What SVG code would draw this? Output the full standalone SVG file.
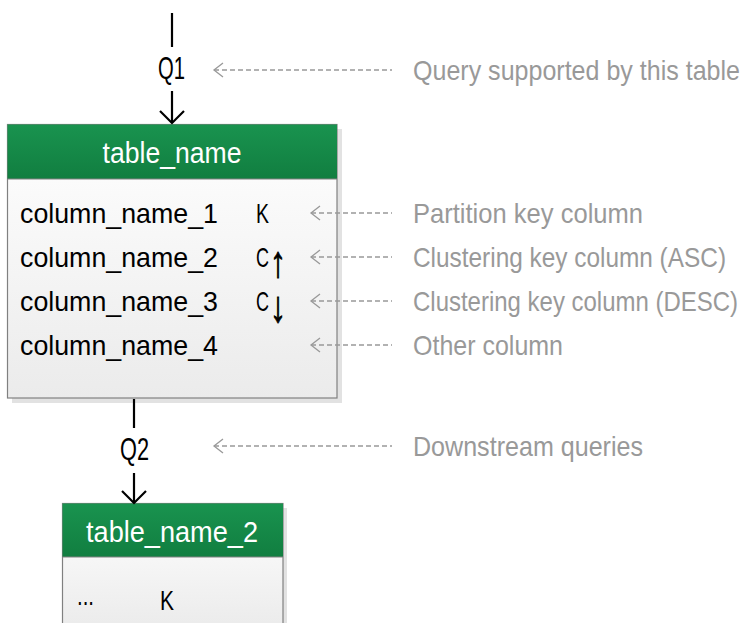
<svg xmlns="http://www.w3.org/2000/svg" width="743" height="623" viewBox="0 0 743 623">
<style>
text{font-family:"Liberation Sans","DejaVu Sans",sans-serif;font-size:28px}
.b{fill:#000}
.w{fill:#fff;font-size:30px}
.g{fill:#999}
.q{font-size:31px}
.arr{font-size:44px;fill:#000;stroke:#000;stroke-width:0.9}
.dash{stroke:#999;stroke-width:1.3;stroke-dasharray:5,3;fill:none}
.chev{stroke:#999;stroke-width:1.3;fill:none}
.flow{stroke:#000;stroke-width:2.2;fill:none}
.hdr{fill:url(#hg)}
.body{fill:url(#bg);stroke:#808080;stroke-width:1.2}
.shadow{fill:#e2e2e2}
</style>
<defs>
<linearGradient id="hg" x1="0" y1="0" x2="0" y2="1">
<stop offset="0" stop-color="#19934f"/>
<stop offset="1" stop-color="#117e40"/>
</linearGradient>
<linearGradient id="bg" x1="0" y1="0" x2="0" y2="1">
<stop offset="0" stop-color="#ffffff"/>
<stop offset="1" stop-color="#ebebeb"/>
</linearGradient>
<marker id="ah" viewBox="0 0 28 16" refX="14" refY="14" markerWidth="28" markerHeight="16" markerUnits="userSpaceOnUse" orient="0">
<path d="M2 2 L14 14 L26 2" stroke="#000" stroke-width="2.2" fill="none"/>
</marker>
</defs>

<g id="table1">
<rect class="shadow" x="12" y="129" width="330" height="274"/>
<rect class="body" x="7.5" y="124.5" width="329.5" height="273.5"/>
<rect class="hdr" x="7.5" y="124.5" width="329.5" height="54.5"/>
<line x1="7.5" y1="179" x2="337" y2="179" stroke="#808080" stroke-width="1"/>
<text class="w" x="172" y="163" text-anchor="middle" textLength="139" lengthAdjust="spacingAndGlyphs">table_name</text>
<text class="b" x="20" y="223" textLength="198" lengthAdjust="spacingAndGlyphs">column_name_1</text>
<text class="b" x="20" y="267" textLength="198" lengthAdjust="spacingAndGlyphs">column_name_2</text>
<text class="b" x="20" y="311" textLength="198" lengthAdjust="spacingAndGlyphs">column_name_3</text>
<text class="b" x="20" y="355" textLength="198" lengthAdjust="spacingAndGlyphs">column_name_4</text>
<text class="b" x="256" y="223" textLength="13" lengthAdjust="spacingAndGlyphs">K</text>
<text class="b"><tspan x="256" y="267" textLength="13" lengthAdjust="spacingAndGlyphs">C</tspan><tspan class="arr" x="270" y="277" textLength="16" lengthAdjust="spacingAndGlyphs">↑</tspan></text>
<text class="b"><tspan x="256" y="311" textLength="13" lengthAdjust="spacingAndGlyphs">C</tspan><tspan class="arr" x="270" y="322" textLength="16" lengthAdjust="spacingAndGlyphs">↓</tspan></text>
</g>

<g id="table2">
<rect class="shadow" x="67" y="508" width="220" height="120"/>
<rect class="body" x="62.5" y="503.5" width="220.5" height="125"/>
<rect class="hdr" x="62.5" y="503.5" width="220.5" height="53.5"/>
<line x1="62.5" y1="557" x2="283" y2="557" stroke="#808080" stroke-width="1"/>
<text class="w" x="172" y="542" text-anchor="middle" textLength="172" lengthAdjust="spacingAndGlyphs">table_name_2</text>
<text class="b" x="77" y="605" textLength="17" lengthAdjust="spacingAndGlyphs">...</text>
<text class="b" x="160" y="610" textLength="14" lengthAdjust="spacingAndGlyphs">K</text>
</g>

<g id="connectors">
<line class="flow" x1="172" y1="13" x2="172" y2="47"/>
<text class="b q" x="171.5" y="79" text-anchor="middle" textLength="27" lengthAdjust="spacingAndGlyphs">Q1</text>
<line class="flow" x1="172" y1="91" x2="172" y2="123" marker-end="url(#ah)"/>
<line class="flow" x1="134" y1="399" x2="134" y2="428"/>
<text class="b q" x="134.5" y="460" text-anchor="middle" textLength="29" lengthAdjust="spacingAndGlyphs">Q2</text>
<line class="flow" x1="134" y1="473" x2="134" y2="503" marker-end="url(#ah)"/>
</g>

<g id="annotations">
<line class="dash" x1="214" y1="70" x2="392" y2="70"/>
<path class="chev" d="M223 63 L214 70 L223 77"/>
<text class="g" x="413" y="80" textLength="327" lengthAdjust="spacingAndGlyphs">Query supported by this table</text>

<line class="dash" x1="311" y1="213" x2="392" y2="213"/>
<path class="chev" d="M320 206 L311 213 L320 220"/>
<text class="g" x="413" y="223" textLength="230" lengthAdjust="spacingAndGlyphs">Partition key column</text>

<line class="dash" x1="311" y1="257" x2="392" y2="257"/>
<path class="chev" d="M320 250 L311 257 L320 264"/>
<text class="g" x="413" y="267" textLength="313" lengthAdjust="spacingAndGlyphs">Clustering key column (ASC)</text>

<line class="dash" x1="311" y1="301" x2="392" y2="301"/>
<path class="chev" d="M320 294 L311 301 L320 308"/>
<text class="g" x="413" y="311" textLength="325" lengthAdjust="spacingAndGlyphs">Clustering key column (DESC)</text>

<line class="dash" x1="311" y1="345" x2="392" y2="345"/>
<path class="chev" d="M320 338 L311 345 L320 352"/>
<text class="g" x="413" y="355" textLength="150" lengthAdjust="spacingAndGlyphs">Other column</text>

<line class="dash" x1="214" y1="446" x2="392" y2="446"/>
<path class="chev" d="M223 439 L214 446 L223 453"/>
<text class="g" x="413" y="456" textLength="230" lengthAdjust="spacingAndGlyphs">Downstream queries</text>
</g>
</svg>
